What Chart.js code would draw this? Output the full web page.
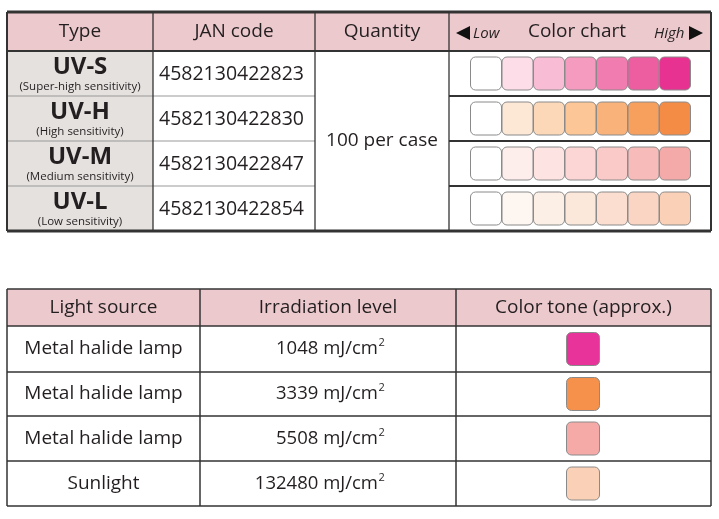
<!DOCTYPE html>
<html><head><meta charset="utf-8">
<script src="https://cdn.jsdelivr.net/npm/chart.js@4"></script>
<style>html,body{margin:0;padding:0;background:#fff}#c{width:719px;height:519px;display:block}</style>
</head><body><div style="width:719px;height:519px"><canvas id="c"></canvas></div>
<script>
const typeNames = ['UV-S', 'UV-H', 'UV-M', 'UV-L'];
const typeNotes = ['(Super-high sensitivity)', '(High sensitivity)', '(Medium sensitivity)', '(Low sensitivity)'];
const janCodes = ['4582130422823', '4582130422830', '4582130422847', '4582130422854'];
const quantity = '100 per case';
const chartColors = [
    ['#ffffff', '#fcdde8', '#f8bcd5', '#f49bbf', '#f07cb0', '#ec5ea0', '#e83291'],
    ['#ffffff', '#fde8d6', '#fcd8b8', '#fcc697', '#f9b37a', '#f7a05e', '#f58c45'],
    ['#ffffff', '#fdeeec', '#fde3e2', '#fcd6d4', '#f9cac8', '#f7bbb9', '#f4aaa9'],
    ['#ffffff', '#fdf6f1', '#fcefe6', '#fce7db', '#fbdecf', '#fad5c4', '#fad0b7'],
];
const lightSources = ['Metal halide lamp', 'Metal halide lamp', 'Metal halide lamp', 'Sunlight'];
const irradiation = [1048, 3339, 5508, 132480];
const toneColors = ['#e8339a', '#f5914a', '#f5aaa8', '#fad0b7'];

// layout (in axis units = pixels of the reference)
const t1 = {cols: [7, 153, 315, 449, 711], rows: [12, 51, 96, 141, 186, 231]};
const t2 = {cols: [7, 200, 456, 711], rows: [289, 326, 372, 416, 461, 506]};
const FONT = '"Open Sans", "Noto Sans", sans-serif';

const tablePlugin = {
    id: 'tables',
    afterDraw(chart) {
        const ctx = chart.ctx, X = v => chart.scales.x.getPixelForValue(v), Y = v => chart.scales.y.getPixelForValue(v);
        const rect = (x0, y0, x1, y1, fill) => { ctx.fillStyle = fill; ctx.fillRect(X(x0), Y(y0), X(x1) - X(x0), Y(y1) - Y(y0)); };
        const line = (x0, y0, x1, y1, w, c) => { ctx.strokeStyle = c; ctx.lineWidth = w; ctx.beginPath(); ctx.moveTo(X(x0), Y(y0)); ctx.lineTo(X(x1), Y(y1)); ctx.stroke(); };
        const text = (s, x, y, size, opts = {}) => {
            ctx.font = (opts.style || '') + ' ' + (opts.weight || 400) + ' ' + size + 'px ' + FONT;
            ctx.fillStyle = '#231f20'; ctx.textAlign = opts.align || 'center'; ctx.textBaseline = 'middle';
            ctx.fillText(s, X(x), Y(y));
        };
        const tri = (x, y, dir) => {
            ctx.fillStyle = '#111'; ctx.beginPath();
            ctx.moveTo(X(x + dir * 7), Y(y)); ctx.lineTo(X(x - dir * 7), Y(y - 7)); ctx.lineTo(X(x - dir * 7), Y(y + 7)); ctx.closePath(); ctx.fill();
        };
        const swatch = (cx, cy, w, h, fill) => {
            ctx.fillStyle = fill; ctx.strokeStyle = '#8a8a8a'; ctx.lineWidth = 1;
            ctx.beginPath(); ctx.roundRect(X(cx - w / 2), Y(cy - h / 2), X(cx + w / 2) - X(cx - w / 2), Y(cy + h / 2) - Y(cy - h / 2), 5);
            ctx.fill(); ctx.stroke();
        };
        ctx.save();
        // table 1
        const c1 = t1.cols, r1 = t1.rows;
        rect(c1[0], r1[0], c1[4], r1[1], '#ecc9cd');
        rect(c1[0], r1[1], c1[1], r1[5], '#e4e1df');
        ['Type', 'JAN code', 'Quantity'].forEach((s, i) => text(s, (c1[i] + c1[i + 1]) / 2, 32, 19));
        tri(463, 33, -1); text('Low', 473, 34, 15, {style: 'italic', align: 'left'});
        text('Color chart', 577, 32, 19); text('High', 654, 34, 15, {style: 'italic', align: 'left'});
        tri(696, 33, 1);
        for (let i = 0; i < 4; i++) {
            const cy = (r1[i + 1] + r1[i + 2]) / 2;
            text(typeNames[i], 80, cy - 6, 24, {weight: 700});
            text(typeNotes[i], 80, cy + 13, 11.5);
            text(janCodes[i], 159, cy + 1, 19.5, {align: 'left'});
            chartColors[i].forEach((col, j) => swatch(486 + j * 31.5, cy, 31, 33, col));
        }
        text(quantity, 382, 141, 19);
        for (let i = 2; i < 5; i++) { line(c1[0], r1[i], c1[2], r1[i], 1, '#999'); line(c1[3], r1[i], c1[4], r1[i], 2, '#333'); }
        line(c1[0], r1[1], c1[4], r1[1], 2, '#333');
        c1.forEach(x => line(x, r1[0], x, r1[5], x === c1[0] || x === c1[4] ? 2 : 1.3, '#333'));
        line(c1[0], r1[0], c1[4], r1[0], 3, '#333'); line(c1[0], r1[5], c1[4], r1[5], 3, '#333');
        // table 2
        const c2 = t2.cols, r2 = t2.rows;
        rect(c2[0], r2[0], c2[3], r2[1], '#ecc9cd');
        ['Light source', 'Irradiation level', 'Color tone (approx.)'].forEach((s, i) => text(s, (c2[i] + c2[i + 1]) / 2, 308, 19));
        for (let i = 0; i < 4; i++) {
            const cy = (r2[i + 1] + r2[i + 2]) / 2;
            text(lightSources[i], (c2[0] + c2[1]) / 2, cy, 19);
            text(irradiation[i] + ' mJ/cm', 378, cy, 18.5, {align: 'right'});
            text('2', 378.5, cy - 6, 11, {align: 'left'});
            swatch(583, cy, 33, 33, toneColors[i]);
        }
        r2.forEach(y => line(c2[0], y, c2[3], y, 1.5, '#333'));
        c2.forEach(x => line(x, r2[0], x, r2[5], 1.5, '#333'));
        ctx.restore();
    }
};

new Chart(document.getElementById('c'), {
    type: 'scatter',
    data: {datasets: [{data: []}]},
    options: {
        animation: false, responsive: true, maintainAspectRatio: false,
        layout: {padding: 0},
        plugins: {legend: {display: false}, tooltip: {enabled: false}},
        scales: {
            x: {type: 'linear', min: 0, max: 719, display: false},
            y: {type: 'linear', min: 0, max: 519, reverse: true, display: false}
        }
    },
    plugins: [tablePlugin]
});
</script></body></html>
